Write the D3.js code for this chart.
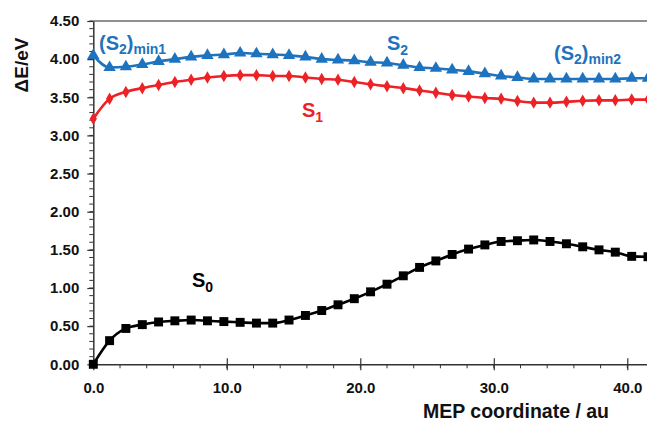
<!DOCTYPE html>
<html>
<head>
<meta charset="utf-8">
<script src="https://cdn.jsdelivr.net/npm/d3@7"></script>
<style>
  body { margin: 0; background: #fff; overflow: hidden; }
  text { font-family: "Liberation Sans", Arial, sans-serif; }
</style>
</head>
<body>
<script>
// MEP coordinate (au) of each computed point
var mepCoord = [0, 1.22, 2.44, 3.67, 4.89, 6.11, 7.33, 8.55, 9.78, 11.0, 12.22, 13.44,
  14.66, 15.89, 17.11, 18.33, 19.55, 20.77, 22.0, 23.22, 24.44, 25.66, 26.88, 28.11,
  29.33, 30.55, 31.77, 32.99, 34.21, 35.44, 36.66, 37.88, 39.1, 40.33, 41.55];

// energies (eV)
var s0 = [0.00, 0.31, 0.47, 0.52, 0.555, 0.57, 0.58, 0.57, 0.56, 0.55, 0.54, 0.54,
  0.58, 0.64, 0.705, 0.78, 0.86, 0.95, 1.05, 1.16, 1.27, 1.355, 1.44, 1.51,
  1.565, 1.61, 1.62, 1.63, 1.61, 1.58, 1.54, 1.50, 1.47, 1.415, 1.41];
var s1 = [3.22, 3.48, 3.57, 3.62, 3.66, 3.70, 3.73, 3.76, 3.78, 3.79, 3.79, 3.78,
  3.78, 3.76, 3.74, 3.73, 3.70, 3.67, 3.645, 3.62, 3.59, 3.56, 3.53, 3.51,
  3.49, 3.48, 3.45, 3.43, 3.43, 3.44, 3.455, 3.46, 3.46, 3.47, 3.47];
var s2 = [4.05, 3.89, 3.90, 3.93, 3.97, 4.00, 4.03, 4.05, 4.06, 4.08, 4.07, 4.06,
  4.05, 4.03, 4.00, 3.99, 3.98, 3.96, 3.95, 3.92, 3.89, 3.88, 3.86, 3.84,
  3.81, 3.78, 3.76, 3.74, 3.74, 3.74, 3.74, 3.74, 3.74, 3.75, 3.75];

var yTicks = [0, 0.5, 1, 1.5, 2, 2.5, 3, 3.5, 4, 4.5];
var xTicks = [0, 10, 20, 30, 40];

var svgWidth = 647;
var svgHeight = 422;

var svg = d3.select("body")
  .append("svg")
  .attr("width", svgWidth)
  .attr("height", svgHeight);

var xScale = d3.scaleLinear()
  .domain([0, 41.6])
  .range([93.3, 93.3 + 41.6 * 13.35]);

var yScale = d3.scaleLinear()
  .domain([0, 4.5])
  .range([364.3, 21]);

// frame line on top
svg.append("line")
  .attr("x1", xScale(0)).attr("x2", svgWidth)
  .attr("y1", yScale(4.5)).attr("y2", yScale(4.5))
  .attr("stroke", "#6b6b6b")
  .attr("stroke-width", 1.3);

// minor ticks
var yMinor = d3.range(0, 46).map(d => d / 10);
svg.append("g").selectAll("line")
  .data(yMinor)
  .enter()
  .append("line")
  .attr("x1", xScale(0) - 4).attr("x2", xScale(0))
  .attr("y1", d => yScale(d)).attr("y2", d => yScale(d))
  .attr("stroke", "#333").attr("stroke-width", 1);

var xMinor = d3.range(0, 22).map(d => d * 2);
svg.append("g").selectAll("line")
  .data(xMinor)
  .enter()
  .append("line")
  .attr("x1", d => xScale(d)).attr("x2", d => xScale(d))
  .attr("y1", yScale(0)).attr("y2", yScale(0) + 4)
  .attr("stroke", "#333").attr("stroke-width", 1);

// y axis
var yAxis = d3.axisLeft(yScale)
  .tickValues(yTicks)
  .tickFormat(d3.format(".2f"))
  .tickSizeInner(6)
  .tickSizeOuter(0)
  .tickPadding(8);
var yAxisG = svg.append("g")
  .attr("transform", `translate(${xScale(0)},0)`)
  .call(yAxis);

// x axis
var xAxis = d3.axisBottom(xScale)
  .tickValues(xTicks)
  .tickFormat(d3.format(".1f"))
  .tickSizeInner(6)
  .tickSizeOuter(0)
  .tickPadding(12);
var xAxisG = svg.append("g")
  .attr("transform", `translate(0,${yScale(0)})`)
  .call(xAxis);

[yAxisG, xAxisG].forEach(function(g) {
  g.select(".domain").attr("stroke", "#333").attr("stroke-width", 1.5);
  g.selectAll(".tick line").attr("stroke", "#333").attr("stroke-width", 1.2);
  g.selectAll(".tick text")
    .attr("fill", "#111")
    .style("font-size", "15px")
    .style("font-weight", "bold")
    .style("font-family", "'Liberation Sans', Arial, sans-serif");
});
// major x ticks cross the axis
xAxisG.selectAll(".tick line").attr("y1", -6);

// series
var series = [
  { values: s0, color: "#000000", symbol: d3.symbolSquare, size: 80 },
  { values: s1, color: "#ec2227", symbol: d3.symbolDiamond, size: 45 },
  { values: s2, color: "#1e73be", symbol: d3.symbolTriangle, size: 66 }
];

var line = d3.line()
  .x(d => xScale(d.x))
  .y(d => yScale(d.y))
  .curve(d3.curveMonotoneX);

series.forEach(function(s) {
  var pts = mepCoord.map((x, i) => ({ x: x, y: s.values[i] }));
  svg.append("path")
    .datum(pts)
    .attr("d", line)
    .attr("fill", "none")
    .attr("stroke", s.color)
    .attr("stroke-width", 2.6);
  svg.append("g").selectAll("path")
    .data(pts)
    .enter()
    .append("path")
    .attr("d", d3.symbol().type(s.symbol).size(s.size))
    .attr("transform", d => `translate(${xScale(d.x)},${yScale(d.y)})`)
    .attr("fill", s.color);
});

// axis titles
svg.append("text")
  .attr("transform", "translate(28,65) rotate(-90)")
  .attr("text-anchor", "middle")
  .style("font-size", "19px")
  .style("font-weight", "bold")
  .attr("fill", "#111")
  .text("ΔE/eV");

svg.append("text")
  .attr("x", 516)
  .attr("y", 418)
  .attr("text-anchor", "middle")
  .style("font-size", "19.5px")
  .style("font-weight", "bold")
  .attr("fill", "#111")
  .text("MEP coordinate / au");

// state labels
function stateLabel(x, y, color, parts) {
  var t = svg.append("text")
    .attr("x", x).attr("y", y)
    .attr("fill", color)
    .style("font-weight", "bold");
  parts.forEach(function(p) {
    t.append("tspan")
      .style("font-size", p.sub ? "14px" : "20px")
      .attr("dy", p.dy || 0)
      .text(p.t);
  });
}

stateLabel(99, 50, "#1e73be", [{ t: "(S" }, { t: "2", sub: true, dy: 4 }, { t: ")", dy: -4 }, { t: "min1", sub: true, dy: 4 }]);
stateLabel(387, 50, "#1e73be", [{ t: "S" }, { t: "2", sub: true, dy: 5 }]);
stateLabel(554, 60, "#1e73be", [{ t: "(S" }, { t: "2", sub: true, dy: 4 }, { t: ")", dy: -4 }, { t: "min2", sub: true, dy: 4 }]);
stateLabel(302, 117, "#ec2227", [{ t: "S" }, { t: "1", sub: true, dy: 5 }]);
stateLabel(192, 287, "#000", [{ t: "S" }, { t: "0", sub: true, dy: 5 }]);
</script>
</body>
</html>
